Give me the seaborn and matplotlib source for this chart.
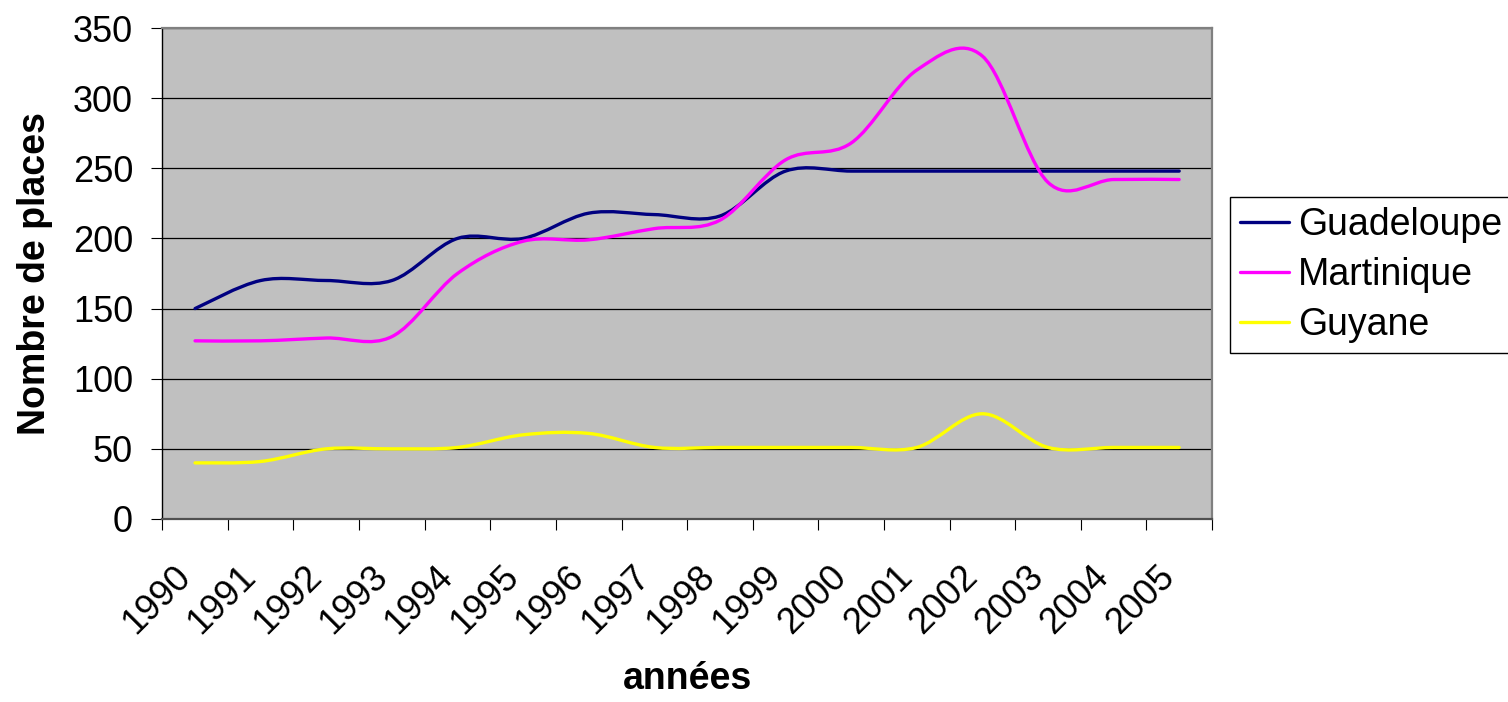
import numpy as np
import pandas as pd
import matplotlib
matplotlib.use("Agg")
import matplotlib.pyplot as plt
import matplotlib.transforms as mtransforms
import seaborn as sns
from matplotlib.path import Path
from matplotlib.patches import PathPatch
from matplotlib.lines import Line2D

# Données
annees = [str(a) for a in range(1990, 2006)]
guadeloupe = [150, 170, 170, 170, 200, 200, 218, 217, 216, 248, 248, 248, 248, 248, 248, 248]
martinique = [127, 127, 129, 130, 175, 198, 199, 207, 213, 256, 268, 320, 330, 240, 242, 242]
guyane = [40, 41, 50, 50, 51, 60, 61, 51, 51, 51, 51, 51, 75, 51, 51, 51]

series = {"Guadeloupe": guadeloupe, "Martinique": martinique, "Guyane": guyane}
couleurs = {"Guadeloupe": "#000080", "Martinique": "#FF00FF", "Guyane": "#FFFF00"}

df = pd.DataFrame({"annee": annees, **series})
df_long = df.melt(id_vars="annee", var_name="region", value_name="places")

sns.set_theme(style="white")
plt.rcParams["font.family"] = ["Liberation Sans", "DejaVu Sans"]
plt.rcParams["text.color"] = "black"
plt.rcParams["axes.labelcolor"] = "black"
plt.rcParams["xtick.color"] = "black"
plt.rcParams["ytick.color"] = "black"


def courbe_lissee(x, y):
    # courbe de Bézier type Catmull-Rom (comme le lissage d'Excel)
    pts = np.column_stack([x, y]).astype(float)
    ext = np.vstack([pts[0], pts, pts[-1]])
    verts = [pts[0]]
    codes = [Path.MOVETO]
    for i in range(len(pts) - 1):
        p0, p1, p2, p3 = ext[i], ext[i + 1], ext[i + 2], ext[i + 3]
        verts += [p1 + (p2 - p0) / 6, p2 - (p3 - p1) / 6, p2]
        codes += [Path.CURVE4] * 3
    return Path(verts, codes)


fig = plt.figure(figsize=(15.08, 7.02), dpi=100)
ax = fig.add_axes([0.1076, 0.2607, 0.6961, 0.6994])
ax.set_facecolor("#C0C0C0")

pos = {a: i for i, a in enumerate(annees)}
for region, grp in df_long.groupby("region", sort=False):
    x = grp["annee"].map(pos).to_numpy()
    patch = PathPatch(courbe_lissee(x, grp["places"].to_numpy()), facecolor="none",
                      edgecolor=couleurs[region], lw=2.4, capstyle="round", joinstyle="round")
    ax.add_patch(patch)

ax.set_xlim(-0.5, len(annees) - 0.5)
ax.set_ylim(0, 350)
ax.set_yticks(range(0, 351, 50))
ax.yaxis.grid(True, color="black", lw=0.9)
ax.xaxis.grid(False)
ax.set_axisbelow(True)

ax.set_xticks(np.arange(len(annees)))
ax.set_xticklabels(annees, rotation=45, ha="right", va="center", rotation_mode="anchor")
ax.set_xticks(np.arange(-0.5, len(annees)), minor=True)
ax.tick_params(axis="x", which="major", length=0, pad=38, labelsize=26)
ax.tick_params(axis="x", which="minor", length=8, width=0.8, color="black", direction="out", bottom=True)
ax.tick_params(axis="y", length=8, width=0.8, color="black", direction="out", pad=13, labelsize=26, left=True)

decalage = mtransforms.ScaledTranslation(-10 / 100, 0, fig.dpi_scale_trans)
for lab in ax.get_xticklabels():
    lab.set_transform(lab.get_transform() + decalage)

for s in ["top", "right"]:
    ax.spines[s].set_color("#808080")
    ax.spines[s].set_linewidth(1.6)
ax.spines["bottom"].set_color("#505050")
ax.spines["bottom"].set_linewidth(1.6)
ax.spines["left"].set_color("black")
ax.spines["left"].set_linewidth(1.0)

ax.set_ylabel("Nombre de places", fontsize=27, fontweight="bold")
ax.yaxis.set_label_coords(-0.104, 0.5)
ax.set_xlabel("années", fontsize=27, fontweight="bold")
ax.xaxis.set_label_coords(0.5, -0.29)

handles = [Line2D([0], [0], color=couleurs[r], lw=2.4) for r in series]
leg = fig.legend(handles, list(series), loc="upper left",
                 bbox_to_anchor=(1230 / 1508, 1 - 197 / 702), bbox_transform=fig.transFigure,
                 borderaxespad=0, frameon=True, fancybox=False, edgecolor="black", framealpha=1,
                 fontsize=27, handlelength=1.3, handletextpad=0.25, labelspacing=0.38, borderpad=0.26)
leg.get_frame().set_linewidth(1.0)

fig.savefig("out.png", dpi=100)
